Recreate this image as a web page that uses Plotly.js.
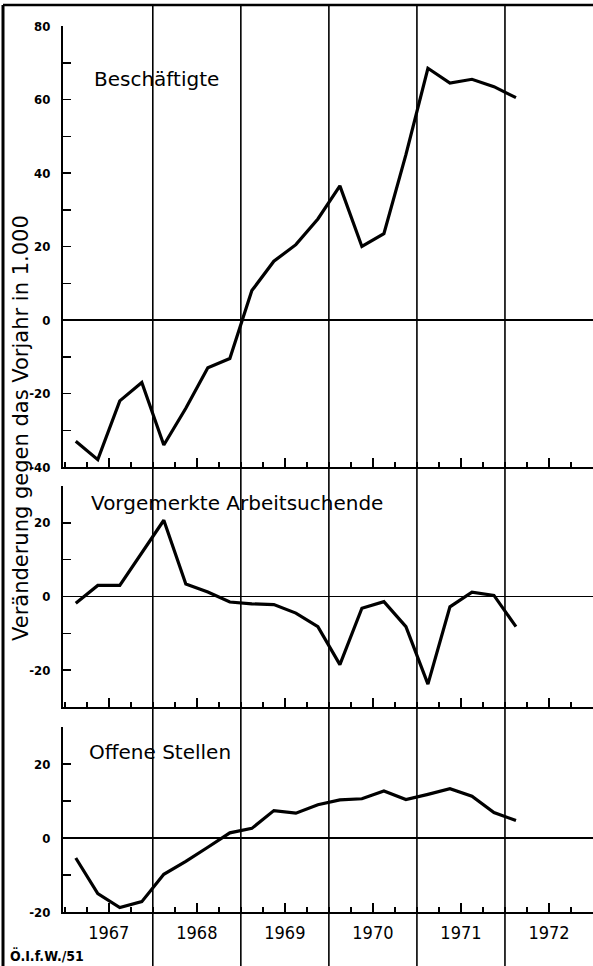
<!DOCTYPE html>
<html>
<head>
<meta charset="utf-8">
<script src="https://cdn.plot.ly/plotly-3.0.1.min.js"></script>
<style>html,body{margin:0;padding:0;background:#fff;}#chart{width:593px;height:966px;}</style>
</head>
<body>
<div id="chart"></div>
<script>
// Quarterly periods (1967 Q1 – 1972 Q1)
const periods = ["1967-1","1967-2","1967-3","1967-4","1968-1","1968-2","1968-3","1968-4",
  "1969-1","1969-2","1969-3","1969-4","1970-1","1970-2","1970-3","1970-4",
  "1971-1","1971-2","1971-3","1971-4","1972-1"];

// Veränderung gegen das Vorjahr in 1.000
const beschaeftigte = [-33,-38,-22,-17,-34,-24,-13,-10.5,8,16,20.5,27.5,36.5,20,23.5,45,68.5,64.5,65.5,63.5,60.5];
const arbeitsuchende = [-1.8,3,3,12,20.7,3.4,1.2,-1.5,-2,-2.2,-4.5,-8.2,-18.5,-3.2,-1.4,-8.2,-23.8,-2.8,1.2,0.3,-8.2];
const offeneStellen = [-5.4,-15,-18.8,-17.2,-9.8,-6.3,-2.5,1.4,2.6,7.4,6.7,9,10.3,10.6,12.7,10.4,11.8,13.3,11.3,6.9,4.7];

const yearLabels = ["1967","1968","1969","1970","1971","1972"];
const yearBoundaries = [1968,1969,1970,1971,1972];
const panelTitles = ["Beschäftigte","Vorgemerkte Arbeitsuchende","Offene Stellen"];
const yTitle = "Veränderung gegen das Vorjahr in 1.000";
const footer = "Ö.I.f.W./51";
const yTicks1 = [-40,-20,0,20,40,60,80];
const yTicks2 = [-20,0,20];
const yTicks3 = [-20,0,20];

// quarter -> decimal year at the middle of the quarter
const xs = periods.map(p => { const [y,q] = p.split("-").map(Number); return y + (q - 0.5) / 4; });
const yearMid = yearLabels.map(y => Number(y) + 0.5);

const lineStyle = {color:"#000", width:3.2};
const traces = [
  {x:xs, y:beschaeftigte, xaxis:"x", yaxis:"y", mode:"lines", line:lineStyle, hoverinfo:"skip"},
  {x:xs, y:arbeitsuchende, xaxis:"x2", yaxis:"y2", mode:"lines", line:lineStyle, hoverinfo:"skip"},
  {x:xs, y:offeneStellen, xaxis:"x3", yaxis:"y3", mode:"lines", line:lineStyle, hoverinfo:"skip"}
];

const tickFont = {family:"DejaVu Sans Condensed, DejaVu Sans, sans-serif", size:13, color:"#000", weight:"bold"};
const xRange = [1966.98, 1973.0];

function xAxis(anchor, labels) {
  return {
    anchor: anchor, range: xRange, showgrid:false, zeroline:false,
    showline:true, linecolor:"#000", linewidth:2,
    tickmode:"array", tickvals: yearMid, ticktext: yearLabels,
    ticks:"inside", ticklen:9, tickwidth:1.5, tickcolor:"#000",
    showticklabels: labels, ticklabelstandoff: 3,
    tickfont:{family:"DejaVu Sans Condensed, DejaVu Sans, sans-serif", size:18, color:"#000"},
    minor:{tickmode:"linear", tick0:1967, dtick:0.25, ticks:"inside", ticklen:5, tickwidth:1.5, tickcolor:"#000"},
    fixedrange:true
  };
}
function yAxis(domain, range, ticks, anchor) {
  return {
    domain: domain, range: range, anchor: anchor, showgrid:false,
    zeroline:true, zerolinecolor:"#000", zerolinewidth:1.6,
    showline:true, linecolor:"#000", linewidth:2,
    tickmode:"array", tickvals: ticks, ticktext: ticks.map(String),
    ticks:"inside", ticklen:8, tickwidth:1.5, tickcolor:"#000",
    ticklabelstandoff: 8, tickfont: tickFont,
    minor:{tickmode:"linear", tick0:0, dtick:10, ticks:"inside", ticklen:8, tickwidth:1.5, tickcolor:"#000"},
    fixedrange:true
  };
}

const H = 966, T = 26, B = 54, L = 63, R = 0;
const plotH = H - T - B, plotW = 593 - L - R;

const shapes = yearBoundaries.map(v => ({
  type:"line", xref:"x", yref:"paper", x0:v, x1:v, y0:-B/plotH, y1:1 + (T-5)/plotH,
  line:{color:"#000", width:1.6}
}));
// outer frame (top and left)
shapes.push({type:"line", xref:"paper", yref:"paper", x0:(3-L)/plotW, x1:1, y0:1+(T-5)/plotH, y1:1+(T-5)/plotH, line:{color:"#000", width:2.5}});
shapes.push({type:"line", xref:"paper", yref:"paper", x0:(3-L)/plotW, x1:(3-L)/plotW, y0:-B/plotH, y1:1+(T-5)/plotH, line:{color:"#000", width:3}});

const titleFont = {family:"DejaVu Sans, sans-serif", size:20, color:"#000"};
const annotations = [
  {xref:"x", yref:"y", x:1967.31, y:65.7, text:panelTitles[0], showarrow:false, xanchor:"left", yanchor:"middle", font:titleFont},
  {xref:"x2", yref:"y2", x:1967.27, y:25.5, text:panelTitles[1], showarrow:false, xanchor:"left", yanchor:"middle", font:titleFont},
  {xref:"x3", yref:"y3", x:1967.25, y:23.2, text:panelTitles[2], showarrow:false, xanchor:"left", yanchor:"middle", font:titleFont},
  {xref:"paper", yref:"paper", x:(21-L)/plotW, y:(H-B-428)/plotH, text:yTitle, textangle:-90, showarrow:false,
   xanchor:"center", yanchor:"middle", font:{family:"DejaVu Sans, sans-serif", size:21, color:"#000"}},
  {xref:"paper", yref:"paper", x:(8-L)/plotW, y:(H-B-956)/plotH, text:footer, showarrow:false,
   xanchor:"left", yanchor:"middle", font:{family:"DejaVu Sans Condensed, DejaVu Sans, sans-serif", size:14, color:"#000", weight:"bold"}}
];

const d1 = [(H-B-467)/plotH, 1];
const d2 = [(H-B-707)/plotH, (H-B-486)/plotH];
const d3 = [0, (H-B-727)/plotH];

const layout = {
  width:593, height:966, margin:{l:L, r:R, t:T, b:B, pad:0},
  paper_bgcolor:"#fff", plot_bgcolor:"rgba(0,0,0,0)", showlegend:false,
  xaxis: xAxis("y", false), xaxis2: xAxis("y2", false), xaxis3: xAxis("y3", true),
  yaxis: yAxis(d1, [-40,80], yTicks1, "x"),
  yaxis2: yAxis(d2, [-30,30], yTicks2, "x2"),
  yaxis3: yAxis(d3, [-20,30], yTicks3, "x3"),
  shapes: shapes, annotations: annotations
};

Plotly.newPlot("chart", traces, layout, {staticPlot:true, displayModeBar:false});
</script>
</body>
</html>
